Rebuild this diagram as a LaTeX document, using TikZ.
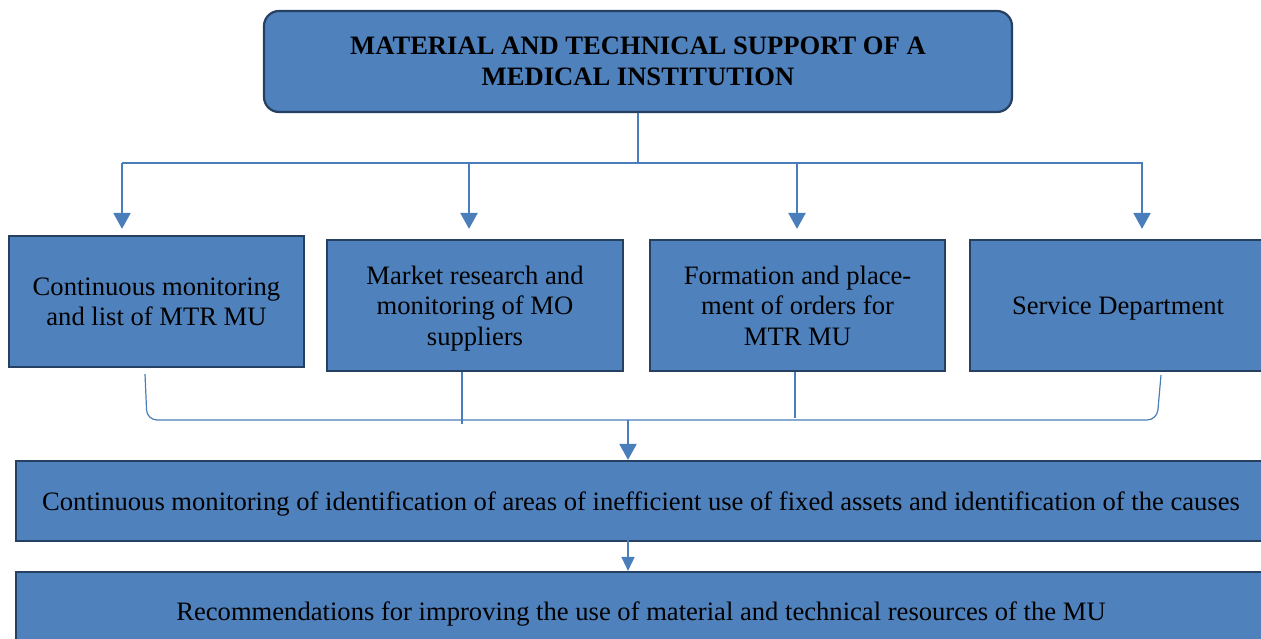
\documentclass[tikz,border=0pt]{standalone}
\usepackage{fontspec}
\setmainfont{Liberation Serif}
\usepackage{tikz}
\usetikzlibrary{arrows.meta}
\definecolor{boxfill}{RGB}{79,129,189}
\definecolor{boxedge}{RGB}{38,64,97}
\definecolor{wireink}{RGB}{74,126,187}

\begin{document}
\begin{tikzpicture}[x=0.5pt, y=-0.5pt, font=\fontsize{13.3}{15.3}\selectfont,
  box/.style={draw=boxedge, line width=1.1pt, fill=boxfill, align=center, inner sep=0pt, text depth=0pt},
  wire/.style={draw=wireink, line width=0.6pt},
  feed/.style={draw=wireink, line width=1.1pt, -{Triangle[width=8.5pt,length=8pt]}},
  feedthin/.style={draw=wireink, line width=0.8pt, -{Triangle[width=6.5pt,length=7pt]}}]
  \useasboundingbox (0,0) rectangle (1261,638);
  % top of the scheme
  \node[box, rounded corners=7.5pt, minimum width=374pt, minimum height=50.5pt,
    font=\fontsize{13.3}{15.5}\selectfont\bfseries] (support) at (638,61.5)
    {MATERIAL AND TECHNICAL SUPPORT OF A\\ MEDICAL INSTITUTION};
  % four directions
  \node[box, minimum width=147.5pt, minimum height=65.5pt] (monitor) at (156.5,301.5)
    {Continuous monitoring\\ and list of MTR MU};
  \node[box, minimum width=148pt, minimum height=65.5pt] (market) at (475,305.5)
    {Market research and\\ monitoring of MO\\ suppliers};
  \node[box, minimum width=147.5pt, minimum height=65.5pt] (orders) at (797.5,305.5)
    {Formation and place-\\ ment of orders for\\ MTR MU};
  \node[box, minimum width=148pt, minimum height=65.5pt] (service) at (1118,305.5)
    {Service Department};
  % results
  \node[box, minimum width=625pt, minimum height=40pt] (causes) at (641,501)
    {Continuous monitoring of identification of areas of inefficient use of fixed assets and identification of the causes};
  \node[box, minimum width=625pt, minimum height=39pt] (recommend) at (641,611)
    {Recommendations for improving the use of material and technical resources of the MU};

  % branching from the top box
  \coordinate (split) at (638,163);
  \draw[wire] (support.south) -- (split);
  \draw[wire] (122,163) -- (1143,163);
  \foreach \n/\x/\g in {monitor/122/3pt, market/469/5pt, orders/797/5pt, service/1142/5pt}
    \draw[feed] (\x,163) -- ([yshift=\g]\x,0 |- \n.north);

  % bracket collecting the four boxes
  \coordinate (join) at (628,420);
  \draw[wire, rounded corners=5pt] (145,374) -- (147,420) -- (1157,420) -- (1161,375);
  \draw[wire] (market.south -| 462,0) -- (462,424);
  \draw[wire] (orders.south -| 795,0) -- (795,418);
  \draw[feed] (join) -- (causes.north -| join);
  \draw[feedthin] ([yshift=2.5pt]causes.south -| join) -- (recommend.north -| join);
\end{tikzpicture}
\end{document}
